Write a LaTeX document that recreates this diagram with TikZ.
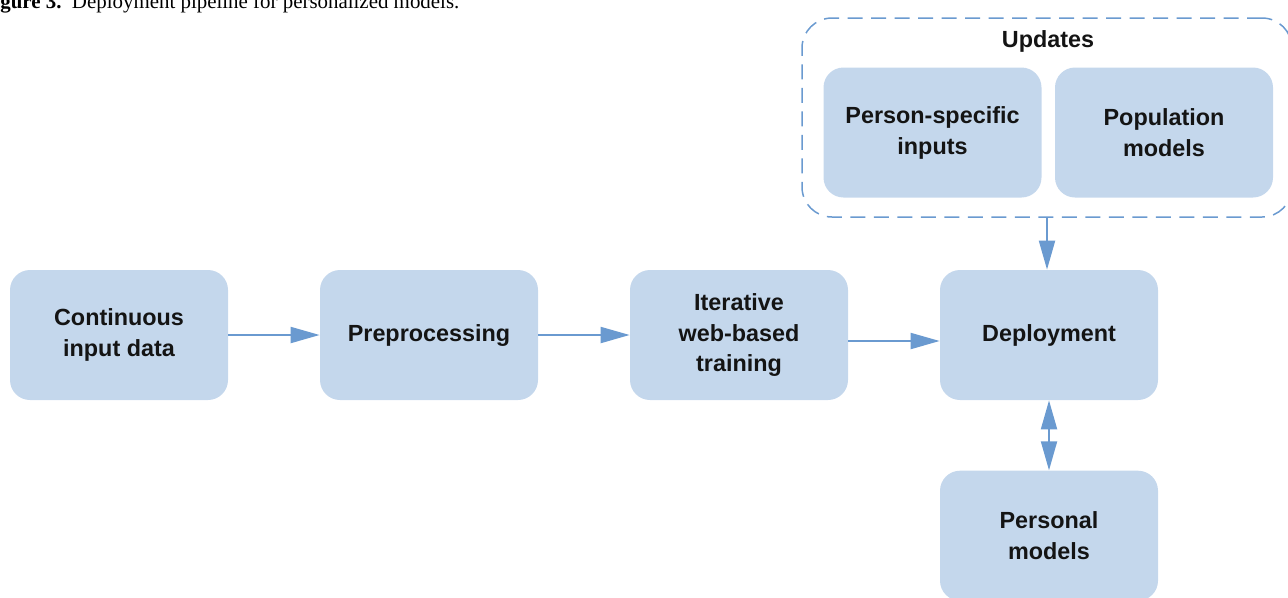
\documentclass[tikz,border=0pt]{standalone}
\usepackage{fontspec}
\setmainfont{Liberation Sans}
\newfontfamily\capfont{Liberation Serif}
\usetikzlibrary{arrows.meta, positioning}
\definecolor{boxblue}{HTML}{C4D7EC}
\definecolor{lineblue}{HTML}{6A9AD0}
\definecolor{inkblack}{HTML}{141414}
\tikzstyle{stage} = [rectangle, rounded corners=0.4cm,
    minimum width=4.36cm, minimum height=2.6cm, align=center,
    fill=boxblue, text=inkblack, font=\bfseries\fontsize{13.3}{17.6}\selectfont]
\tikzstyle{group} = [rectangle, rounded corners=0.6cm,
    minimum width=9.8cm, minimum height=3.98cm,
    draw=lineblue, line width=0.85pt, dash pattern=on 0.3cm off 0.17cm]
\tikzstyle{arrow} = [draw=lineblue, line width=1.1pt,
    -{Triangle[length=0.58cm, width=0.32cm]}]

\begin{document}
\begin{tikzpicture}[node distance=6.2cm]
        \useasboundingbox (0,0) rectangle (25.76,-11.94);

        % Caption (cut off in the source)
        \node (caption) [anchor=base west, inner sep=0pt, font=\capfont\fontsize{11.9}{14}\selectfont]
            at (0,-0.17) {\textbf{gure 3.}\enspace Deployment pipeline for personalized models.};

        % Nodes
        \node (input) [stage] at (2.38,-6.7) {Continuous\\input data};

        \node (prep) [stage, right of=input] {Preprocessing};

        \node (train) [stage, right of=prep] {Iterative\\web-based\\training};

        \node (deploy) [stage, right of=train] {Deployment};

        \node (personal) [stage, below=1.4cm of deploy] {Personal\\models};

        % Updates group
        \node (updates) [group] at (20.94,-2.35) {};
        \node (updtitle) [text=inkblack, font=\bfseries\fontsize{13.3}{16}\selectfont] at (20.96,-0.82) {Updates};
        \node (specific) [stage] at (18.65,-2.65) {Person-specific\\inputs};
        \node (population) [stage] at (23.28,-2.65) {Population\\models};

        % Arrows
        \draw [arrow] (input) -- (prep);
        \draw [arrow] (prep) -- (train);
        \draw [arrow] ([yshift=-0.12cm]train.east) -- ([yshift=-0.12cm]deploy.west);
        \draw [arrow] (updates.south) -- (updates.south |- deploy.north);
        \draw [arrow, {Triangle[length=0.58cm, width=0.32cm]}-{Triangle[length=0.58cm, width=0.32cm]}] (deploy) -- (personal);

    \end{tikzpicture}
\end{document}
